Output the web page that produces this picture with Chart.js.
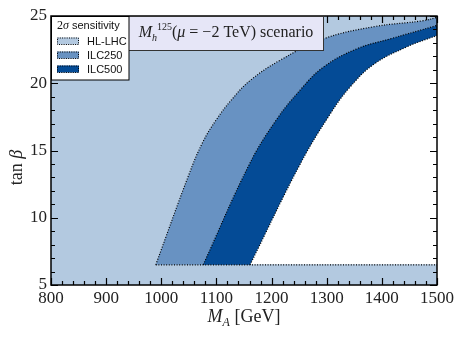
<!DOCTYPE html>
<html>
<head>
<meta charset="utf-8">
<script src="https://cdn.jsdelivr.net/npm/chart.js@4.4.1/dist/chart.umd.min.js"></script>
<style>
  html, body { margin: 0; padding: 0; background: #fff; }
</style>
</head>
<body>
<canvas id="sensChart" width="463" height="339"></canvas>
<script>
// axis ticks
const xTicks = [800, 900, 1000, 1100, 1200, 1300, 1400, 1500];
const yTicks = [5, 10, 15, 20, 25];
const seriesNames = ['HL-LHC', 'ILC250', 'ILC500'];

// lower edge of the bands (tan beta)
const baseTanb = 6.5;

// HL-LHC sensitivity edge
const hlMA   = [990, 1050, 1075, 1100, 1128, 1161, 1215, 1294, 1385, 1475, 1500];
const hlTanb = [6.5, 13.2, 15.6, 17.3, 18.8, 20.2, 21.7, 23.3, 24.2, 24.65, 24.9];

// ILC250 sensitivity edge
const ilc250MA   = [1076, 1160, 1209, 1252, 1294, 1354, 1415, 1500];
const ilc250Tanb = [6.5, 14.0, 17.3, 19.5, 21.2, 22.55, 23.3, 24.3];

// ILC500 sensitivity edge
const ilc500MA   = [1161, 1252, 1306, 1342, 1385, 1445, 1500];
const ilc500Tanb = [6.5, 14.0, 17.7, 19.7, 21.4, 22.7, 23.55];

const colors = ['#b3c9e0', '#6892c2', '#044b96'];
const serif = '"Liberation Serif", "DejaVu Serif", serif';
const sans = '"Liberation Sans", "DejaVu Sans", sans-serif';
const xMax = xTicks[xTicks.length - 1];

const pts = (xs, ys) => xs.map((x, i) => ({ x: x, y: ys[i] }));
// edge curve, its end point repeated (keeps the corner sharp), then down to the base
const region = (xs, ys) => {
  const p = pts(xs, ys);
  return p.concat([p[p.length - 1], { x: xMax, y: baseTanb }]);
};

const dotted = (data, tension) => ({
  data: data,
  showLine: true,
  fill: false,
  borderColor: '#000',
  borderWidth: 1.2,
  borderDash: [1, 1.6],
  pointRadius: 0,
  tension: tension,
});
const band = (data, color) => ({
  data: data,
  showLine: true,
  fill: 'shape',
  backgroundColor: color,
  borderWidth: 0,
  borderColor: 'rgba(0,0,0,0)',
  pointRadius: 0,
  tension: 0.4,
});

// draw a run of [text, font, dy] pieces starting at x
function drawRuns(ctx, runs, x, y) {
  for (const [t, f, dy] of runs) {
    ctx.font = f;
    ctx.fillText(t, x, y + (dy || 0));
    x += ctx.measureText(t).width;
  }
}
function runsWidth(ctx, runs) {
  let w = 0;
  for (const [t, f] of runs) { ctx.font = f; w += ctx.measureText(t).width; }
  return w;
}

const decor = {
  id: 'decor',
  beforeDraw(chart) {
    const { ctx, chartArea: a } = chart;
    ctx.save();
    ctx.fillStyle = colors[0];
    ctx.fillRect(a.left, a.top, a.right - a.left, a.bottom - a.top);
    ctx.restore();
  },
  afterDatasetsDraw(chart) {
    const { ctx, chartArea: a, scales: { x, y } } = chart;
    ctx.save();
    ctx.strokeStyle = '#000';
    ctx.lineWidth = 1.2;
    ctx.beginPath();
    for (let v = xTicks[0]; v <= xMax; v += 20) {
      const px = Math.round(x.getPixelForValue(v)) + 0.5;
      const len = v % 100 === 0 ? 7 : 4;
      ctx.moveTo(px, a.bottom); ctx.lineTo(px, a.bottom - len);
      ctx.moveTo(px, a.top); ctx.lineTo(px, a.top + len);
    }
    for (let v = yTicks[0]; v <= yTicks[yTicks.length - 1]; v += 1) {
      const py = Math.round(y.getPixelForValue(v)) + 0.5;
      const len = v % 5 === 0 ? 7 : 4;
      ctx.moveTo(a.left, py); ctx.lineTo(a.left + len, py);
      ctx.moveTo(a.right, py); ctx.lineTo(a.right - len, py);
    }
    ctx.stroke();
    ctx.lineWidth = 1.5;
    ctx.strokeRect(a.left, a.top, a.right - a.left, a.bottom - a.top);
    ctx.restore();
  },
  afterDraw(chart) {
    const { ctx, chartArea: a } = chart;
    ctx.save();

    // scenario box
    ctx.fillStyle = '#e6e6f7';
    ctx.fillRect(a.left + 77.5, a.top, 195, 34);
    ctx.strokeStyle = '#333';
    ctx.lineWidth = 1;
    ctx.strokeRect(a.left + 77.5, a.top + 0.5, 195, 34);
    ctx.fillStyle = '#222';
    ctx.textBaseline = 'alphabetic';
    ctx.textAlign = 'left';
    const title = [
      ['M', 'italic 16px ' + serif],
      ['h', 'italic 10px ' + serif, 4],
      ['125', '10px ' + serif, -7],
      ['(', '16px ' + serif],
      ['\u03bc', 'italic 16px ' + serif],
      [' = \u22122 TeV) scenario', '16px ' + serif],
    ];
    drawRuns(ctx, title, a.left + 175 - runsWidth(ctx, title) / 2, a.top + 21);

    // legend
    ctx.fillStyle = '#fff';
    ctx.fillRect(a.left, a.top, 78, 64);
    ctx.strokeStyle = '#000';
    ctx.lineWidth = 1;
    ctx.strokeRect(a.left + 0.5, a.top + 0.5, 77.5, 63.5);
    ctx.fillStyle = '#111';
    ctx.textBaseline = 'middle';
    drawRuns(ctx, [['2', '12px ' + serif], ['\u03c3', 'italic 12px ' + serif], [' sensitivity', '11px ' + sans]], a.left + 6, a.top + 10);
    seriesNames.forEach((name, i) => {
      const yy = a.top + 25 + i * 14;
      ctx.fillStyle = colors[i];
      ctx.fillRect(a.left + 6, yy - 3.5, 22, 7);
      ctx.setLineDash([1, 1.3]);
      ctx.strokeStyle = '#000';
      ctx.strokeRect(a.left + 6.5, yy - 3, 21, 6.5);
      ctx.setLineDash([]);
      ctx.fillStyle = '#111';
      ctx.font = '11px ' + sans;
      ctx.fillText(name, a.left + 36, yy + 0.5);
    });

    // axis titles
    ctx.fillStyle = '#222';
    ctx.textBaseline = 'alphabetic';
    const xt = [
      ['M', 'italic 18px ' + serif],
      ['A', 'italic 12px ' + serif, 4],
      [' [GeV]', '18px ' + serif],
    ];
    drawRuns(ctx, xt, (a.left + a.right) / 2 - runsWidth(ctx, xt) / 2, 322);
    ctx.translate(22, (a.top + a.bottom) / 2 + 17);
    ctx.rotate(-Math.PI / 2);
    const yt = [['tan ', '18px ' + serif], ['\u03b2', 'italic 18px ' + serif]];
    drawRuns(ctx, yt, -runsWidth(ctx, yt) / 2, 0);
    ctx.restore();
  },
};

new Chart(document.getElementById('sensChart'), {
  type: 'scatter',
  data: {
    datasets: [
      dotted([{ x: hlMA[0], y: baseTanb }, { x: xMax, y: baseTanb }], 0),
      dotted(pts(hlMA, hlTanb), 0.4),
      dotted(pts(ilc250MA, ilc250Tanb), 0.4),
      dotted(pts(ilc500MA, ilc500Tanb), 0.4),
      band(region(ilc500MA, ilc500Tanb), '#ffffff'),
      band(region(ilc250MA, ilc250Tanb), colors[2]),
      band(region(hlMA, hlTanb), colors[1]),
    ],
  },
  options: {
    responsive: false,
    animation: false,
    devicePixelRatio: 1,
    layout: { padding: { top: 16, right: 26, left: 0, bottom: 0 } },
    plugins: {
      legend: { display: false },
      tooltip: { enabled: false },
    },
    scales: {
      x: {
        type: 'linear',
        min: xTicks[0],
        max: xMax,
        afterBuildTicks: (s) => { s.ticks = xTicks.map((v) => ({ value: v })); },
        afterFit: (s) => { s.height = 54; },
        grid: { display: true, drawOnChartArea: false, drawTicks: false },
        border: { display: false },
        ticks: {
          padding: 3, maxRotation: 0, autoSkip: false, color: '#222',
          font: { family: serif, size: 17 },
          callback: (v) => String(v),
        },
      },
      y: {
        type: 'linear',
        min: yTicks[0],
        max: yTicks[yTicks.length - 1],
        afterBuildTicks: (s) => { s.ticks = yTicks.map((v) => ({ value: v })); },
        afterFit: (s) => { s.width = 51; },
        grid: { display: true, drawOnChartArea: false, drawTicks: false },
        border: { display: false },
        ticks: {
          padding: 4, autoSkip: false, color: '#222',
          font: { family: serif, size: 17 },
          callback: (v) => String(v),
        },
      },
    },
  },
  plugins: [decor],
});
</script>
</body>
</html>
